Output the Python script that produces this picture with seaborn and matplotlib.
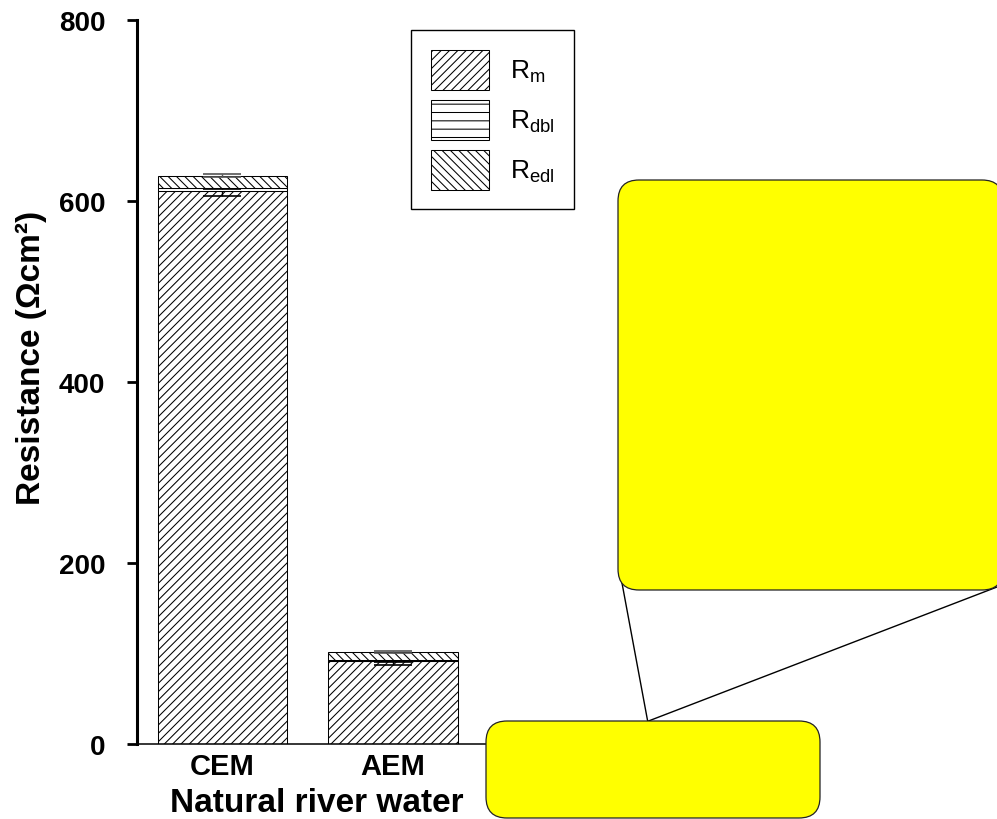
import numpy as np
import pandas as pd
import matplotlib
matplotlib.use("Agg")
import matplotlib.pyplot as plt
from matplotlib.patches import FancyBboxPatch
from matplotlib.lines import Line2D
import seaborn as sns

# Resistance components per membrane (Ohm cm^2)
membranes = ["CEM", "AEM"]
r_m = [611.0, 92.0]
r_dbl = [3.3, 0.8]
r_edl = [13.7, 8.5]
err_m = [5.9, 4.7]
err_dbl = [1.0, 2.5]
err_edl = [1.6, 1.1]
y_ticks = [0, 200, 400, 600, 800]
legend_labels = ["R$_{m}$", "R$_{dbl}$", "R$_{edl}$"]

sns.set_theme(style="ticks")
plt.rcParams["font.family"] = ["Liberation Sans", "DejaVu Sans"]
plt.rcParams["mathtext.default"] = "regular"
plt.rcParams["hatch.linewidth"] = 0.75
plt.rcParams["text.color"] = "black"
plt.rcParams["axes.labelcolor"] = "black"

W, H = 997, 820
fig = plt.figure(figsize=(W / 100, H / 100), dpi=100)
fig.patch.set_facecolor("white")
ax = fig.add_axes([137 / W, 1 - 745 / H, 360 / W, 724 / H])
ax.set_facecolor("white")

df = pd.DataFrame({"membrane": membranes, "r_m": r_m, "r_dbl": r_dbl, "r_edl": r_edl})
base_dbl = np.array(r_m)
base_edl = np.array(r_m) + np.array(r_dbl)

# stacked segments, drawn bottom-up so each one hides the upper half
# of the error bar below it
segments = [
    ("r_m", np.zeros(len(membranes)), "////", err_m, legend_labels[0], "black"),
    ("r_dbl", base_dbl, "--", err_dbl, legend_labels[1], "black"),
    ("r_edl", base_edl, "\\\\\\\\", err_edl, legend_labels[2], "#555555"),
]

bar_width = 0.757
xpos = np.arange(len(membranes))
for i, (col, bottom, hatch, err, lab, ecol) in enumerate(segments):
    z = 2 + i
    sns.barplot(data=df, x="membrane", y=col, bottom=bottom, color="white",
                saturation=1, edgecolor="black", linewidth=0.75, hatch=hatch,
                width=bar_width, errorbar=None, label=lab, zorder=z, ax=ax)
    ax.errorbar(xpos, bottom + df[col].to_numpy(), yerr=err, fmt="none",
                ecolor=ecol, elinewidth=1.0, capsize=14, capthick=1.2,
                zorder=z + 0.5)

ax.set_xlim(-0.5, 1.61)
ax.set_ylim(0, 800)
ax.set_yticks(y_ticks)
ax.set_yticklabels([str(t) for t in y_ticks])

for side in ("top", "right"):
    ax.spines[side].set_visible(False)
ax.spines["left"].set_linewidth(2.2)
ax.spines["bottom"].set_linewidth(1.1)
ax.spines["left"].set_color("black")
ax.spines["bottom"].set_color("black")

ax.tick_params(axis="y", direction="out", length=7.2, width=2.0, pad=15.5,
               labelsize=20, colors="black")
ax.tick_params(axis="x", length=0, pad=6, labelsize=21, colors="black")
for lbl in ax.get_xticklabels() + ax.get_yticklabels():
    lbl.set_fontweight("bold")

ax.set_xlabel("Natural river water", fontsize=24, fontweight="bold",
              labelpad=5, color="black")
ax.set_ylabel("Resistance (\u03a9cm\u00b2)", fontsize=24, fontweight="bold",
              color="black")
ax.yaxis.set_label_coords(-0.25, 0.535)

handles, labels = ax.get_legend_handles_labels()
leg = ax.legend(handles, labels, loc="upper left",
                bbox_to_anchor=(411 / W, 1 - 31 / H), bbox_transform=fig.transFigure,
                borderaxespad=0, frameon=True, fancybox=False, framealpha=1,
                edgecolor="black", fontsize=19, handlelength=2.2, handleheight=1.955,
                labelspacing=0.38, handletextpad=0.8, borderpad=0.74)
leg.get_frame().set_linewidth(1.0)
for t in leg.get_texts():
    t.set_color("black")

# Callout: connector lines and rounded yellow panels (pixel units -> inches)
def px(x, y):
    return x / 100, (H - y) / 100

tr = fig.dpi_scale_trans
for end in [(620.5, 576.0), (997.0, 588.0)]:
    (x0, y0), (x1, y1) = px(647.7, 722.3), px(*end)
    fig.add_artist(Line2D([x0, x1], [y0, y1], transform=tr, color="black",
                          linewidth=1.0, zorder=0.9))

for (left, top, right, bottom) in [(618, 181, 1003, 591), (486, 722, 820, 819)]:
    x0, y0 = px(left, bottom)
    fig.add_artist(FancyBboxPatch((x0, y0), (right - left) / 100, (bottom - top) / 100,
                                  boxstyle="round,pad=0,rounding_size=0.21",
                                  transform=tr, facecolor="#FFFF00",
                                  edgecolor="#222222", linewidth=0.9, zorder=1))

fig.savefig("out.png", dpi=100, facecolor="white")
